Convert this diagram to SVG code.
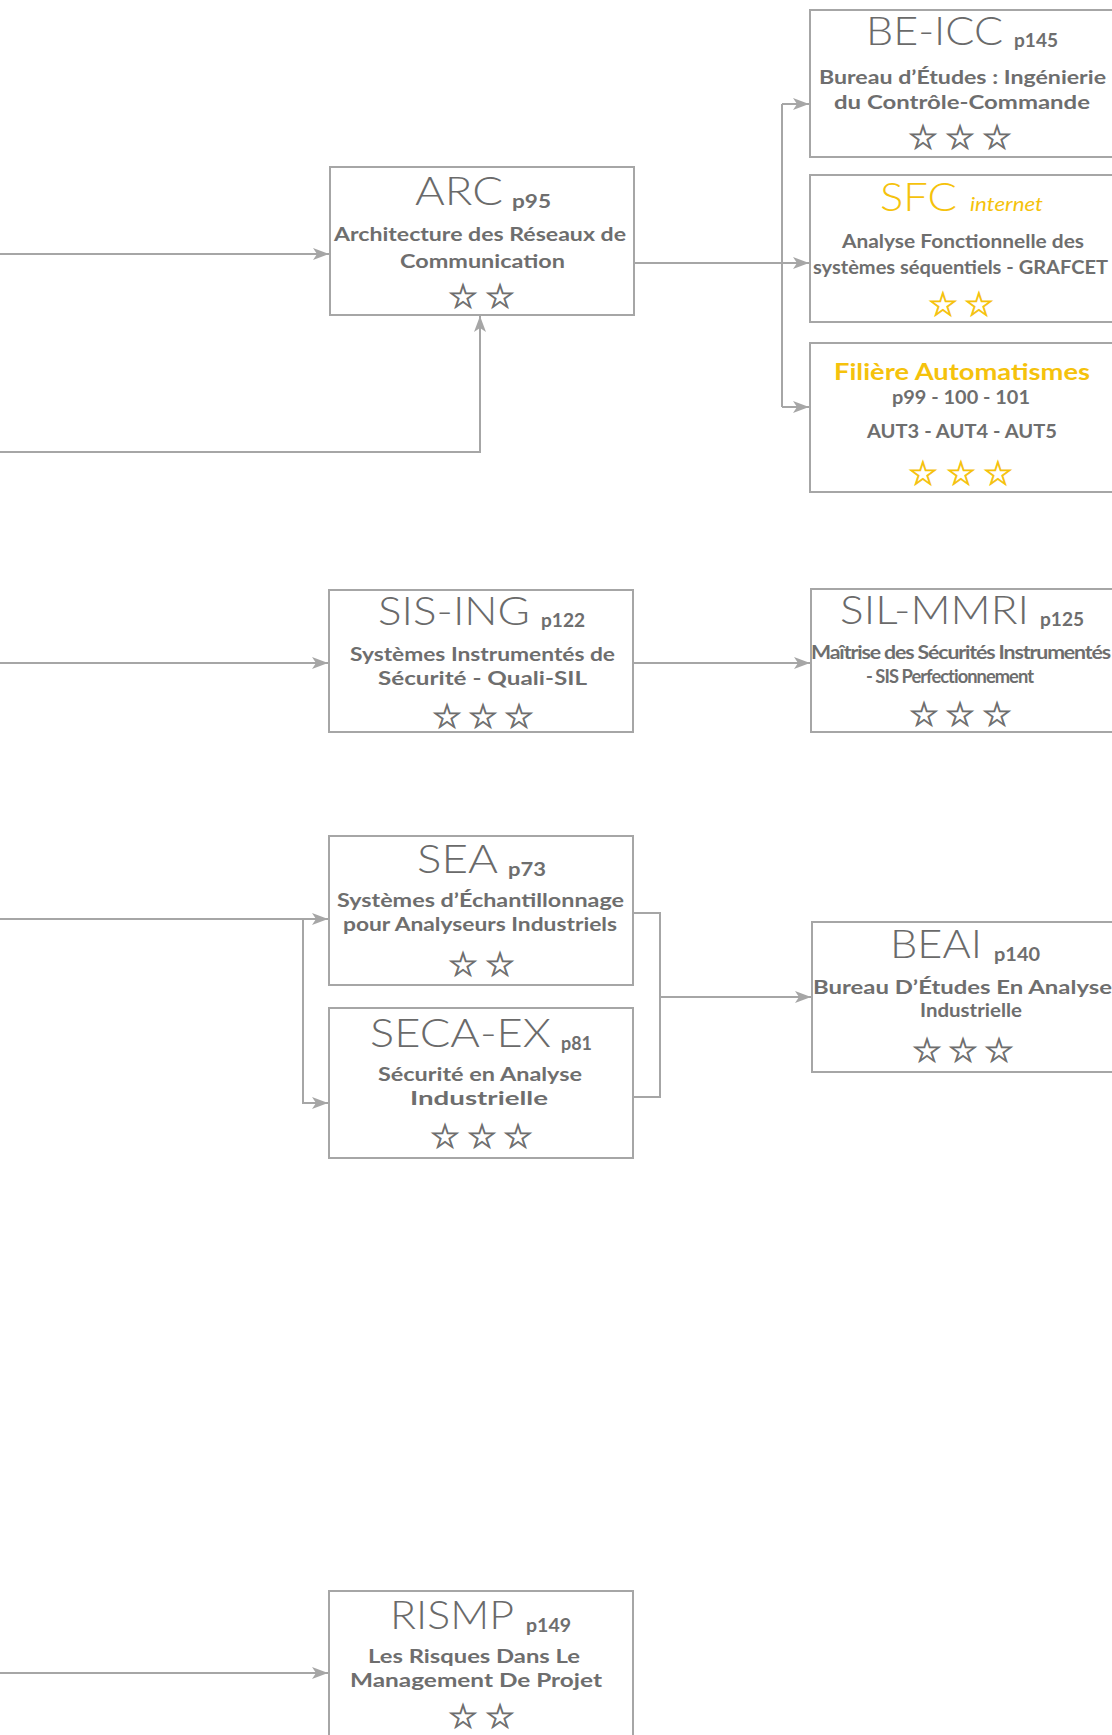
<svg xmlns="http://www.w3.org/2000/svg" width="1112" height="1735" viewBox="0 0 1112 1735">
<style>
.box{fill:#fff;stroke:#a6a6a6;stroke-width:2}
.ln{fill:none;stroke:#a6a6a6;stroke-width:2}
.t{font-family:Lato,"Liberation Sans",sans-serif;font-weight:300;font-size:39px;fill:#6a6a6a}
.p{font-family:Lato,"Liberation Sans",sans-serif;font-weight:700;font-size:19px;fill:#6e6e6e}
.s{font-family:Lato,"Liberation Sans",sans-serif;font-weight:700;font-size:19px;fill:#6e6e6e}
.y{fill:#f5c20c}
.i{font-family:Lato,"Liberation Sans",sans-serif;font-style:italic;font-weight:400;font-size:19px;fill:#f5c20c}
.st{font-family:"DejaVu Sans",sans-serif;font-size:34px;fill:#6e6e6e;stroke:#6e6e6e;stroke-width:0.8;text-anchor:middle}
.sy{fill:#f5c20c;stroke:#f5c20c}
</style>
<defs>
<marker id="ar" markerUnits="userSpaceOnUse" markerWidth="20" markerHeight="16" refX="18" refY="8" orient="auto">
<path d="M2,2 L18,8 L2,14 L6,8 z" fill="#a6a6a6"/>
</marker>
</defs>
<g id="connectors">
<path class="ln" d="M0,254 H329" marker-end="url(#ar)"/>
<path class="ln" d="M0,452 H480 V316" marker-end="url(#ar)"/>
<path class="ln" d="M634,263 H782"/>
<path class="ln" d="M782,104 V407"/>
<path class="ln" d="M782,104 H809" marker-end="url(#ar)"/>
<path class="ln" d="M782,263 H809" marker-end="url(#ar)"/>
<path class="ln" d="M782,407 H809" marker-end="url(#ar)"/>
<path class="ln" d="M0,663 H328" marker-end="url(#ar)"/>
<path class="ln" d="M633,663 H810" marker-end="url(#ar)"/>
<path class="ln" d="M0,919 H328" marker-end="url(#ar)"/>
<path class="ln" d="M303,919 V1103 H328" marker-end="url(#ar)"/>
<path class="ln" d="M633,913 H660 V1097 H633"/>
<path class="ln" d="M660,997 H811" marker-end="url(#ar)"/>
<path class="ln" d="M0,1673 H328" marker-end="url(#ar)"/>
</g>
<g id="be-icc">
<rect class="box" x="810" y="10" width="320" height="147"/>
<text class="t" x="866" y="45" textLength="137" lengthAdjust="spacingAndGlyphs">BE-ICC</text>
<text class="p" x="1014" y="47" textLength="44" lengthAdjust="spacingAndGlyphs">p145</text>
<text class="s" x="819" y="84" textLength="287" lengthAdjust="spacingAndGlyphs">Bureau d’Études : Ingénierie</text>
<text class="s" x="834" y="109" textLength="256" lengthAdjust="spacingAndGlyphs">du Contrôle-Commande</text>
<text class="st" y="149"><tspan x="923">☆</tspan><tspan x="960">☆</tspan><tspan x="997">☆</tspan></text>
</g>
<g id="sfc">
<rect class="box" x="810" y="175" width="320" height="147"/>
<text class="t y" x="880" y="211" textLength="77" lengthAdjust="spacingAndGlyphs">SFC</text>
<text class="i" x="970" y="211" textLength="73" lengthAdjust="spacingAndGlyphs">internet</text>
<text class="s" x="842" y="248" textLength="242" lengthAdjust="spacingAndGlyphs">Analyse Fonctionnelle des</text>
<text class="s" x="813" y="274" textLength="295" lengthAdjust="spacingAndGlyphs">systèmes séquentiels - GRAFCET</text>
<text class="st sy" y="316"><tspan x="943">☆</tspan><tspan x="979">☆</tspan></text>
</g>
<g id="filiere-automatismes">
<rect class="box" x="810" y="343" width="320" height="149"/>
<text class="s y" x="834" y="380" style="font-size:22px" textLength="256" lengthAdjust="spacingAndGlyphs">Filière Automatismes</text>
<text class="s" x="892" y="404" textLength="138" lengthAdjust="spacingAndGlyphs">p99 - 100 - 101</text>
<text class="s" x="867" y="438" textLength="190" lengthAdjust="spacingAndGlyphs">AUT3 - AUT4 - AUT5</text>
<text class="st sy" y="485"><tspan x="923">☆</tspan><tspan x="961">☆</tspan><tspan x="998">☆</tspan></text>
</g>
<g id="arc">
<rect class="box" x="330" y="167" width="304" height="148"/>
<text class="t" x="415" y="205" textLength="88" lengthAdjust="spacingAndGlyphs">ARC</text>
<text class="p" x="512" y="208" textLength="39" lengthAdjust="spacingAndGlyphs">p95</text>
<text class="s" x="334" y="241" textLength="292" lengthAdjust="spacingAndGlyphs">Architecture des Réseaux de</text>
<text class="s" x="400" y="268" textLength="165" lengthAdjust="spacingAndGlyphs">Communication</text>
<text class="st" y="308"><tspan x="463">☆</tspan><tspan x="500">☆</tspan></text>
</g>
<g id="sis-ing">
<rect class="box" x="329" y="590" width="304" height="142"/>
<text class="t" x="378" y="625" textLength="152" lengthAdjust="spacingAndGlyphs">SIS-ING</text>
<text class="p" x="541" y="627" textLength="44" lengthAdjust="spacingAndGlyphs">p122</text>
<text class="s" x="350" y="661" textLength="265" lengthAdjust="spacingAndGlyphs">Systèmes Instrumentés de</text>
<text class="s" x="378" y="685" textLength="209" lengthAdjust="spacingAndGlyphs">Sécurité - Quali-SIL</text>
<text class="st" y="728"><tspan x="447">☆</tspan><tspan x="483">☆</tspan><tspan x="519">☆</tspan></text>
</g>
<g id="sil-mmri">
<rect class="box" x="811" y="589" width="320" height="143"/>
<text class="t" x="840" y="624" textLength="189" lengthAdjust="spacingAndGlyphs">SIL-MMRI</text>
<text class="p" x="1040" y="626" textLength="44" lengthAdjust="spacingAndGlyphs">p125</text>
<text class="s" x="811" y="659" style="letter-spacing:-1px" textLength="299" lengthAdjust="spacingAndGlyphs">Maîtrise des Sécurités Instrumentés</text>
<text class="s" x="866" y="683" style="letter-spacing:-1px" textLength="167" lengthAdjust="spacingAndGlyphs">- SIS Perfectionnement</text>
<text class="st" y="726"><tspan x="924">☆</tspan><tspan x="960">☆</tspan><tspan x="997">☆</tspan></text>
</g>
<g id="sea">
<rect class="box" x="329" y="836" width="304" height="149"/>
<text class="t" x="417" y="873" textLength="81" lengthAdjust="spacingAndGlyphs">SEA</text>
<text class="p" x="508" y="876" textLength="38" lengthAdjust="spacingAndGlyphs">p73</text>
<text class="s" x="337" y="907" textLength="287" lengthAdjust="spacingAndGlyphs">Systèmes d’Échantillonnage</text>
<text class="s" x="343" y="931" textLength="274" lengthAdjust="spacingAndGlyphs">pour Analyseurs Industriels</text>
<text class="st" y="976"><tspan x="463">☆</tspan><tspan x="500">☆</tspan></text>
</g>
<g id="seca-ex">
<rect class="box" x="329" y="1008" width="304" height="150"/>
<text class="t" x="370" y="1047" textLength="181" lengthAdjust="spacingAndGlyphs">SECA-EX</text>
<text class="p" x="561" y="1050" textLength="31" lengthAdjust="spacingAndGlyphs">p81</text>
<text class="s" x="378" y="1081" textLength="204" lengthAdjust="spacingAndGlyphs">Sécurité en Analyse</text>
<text class="s" x="410" y="1105" textLength="138" lengthAdjust="spacingAndGlyphs">Industrielle</text>
<text class="st" y="1148"><tspan x="445">☆</tspan><tspan x="482">☆</tspan><tspan x="518">☆</tspan></text>
</g>
<g id="beai">
<rect class="box" x="812" y="922" width="320" height="150"/>
<text class="t" x="890" y="958" textLength="92" lengthAdjust="spacingAndGlyphs">BEAI</text>
<text class="p" x="994" y="961" textLength="46" lengthAdjust="spacingAndGlyphs">p140</text>
<text class="s" x="813" y="994" textLength="299" lengthAdjust="spacingAndGlyphs">Bureau D’Études En Analyse</text>
<text class="s" x="920" y="1017" textLength="102" lengthAdjust="spacingAndGlyphs">Industrielle</text>
<text class="st" y="1062"><tspan x="927">☆</tspan><tspan x="963">☆</tspan><tspan x="999">☆</tspan></text>
</g>
<g id="rismp">
<rect class="box" x="329" y="1591" width="304" height="160"/>
<text class="t" x="390" y="1629" textLength="124" lengthAdjust="spacingAndGlyphs">RISMP</text>
<text class="p" x="526" y="1632" textLength="45" lengthAdjust="spacingAndGlyphs">p149</text>
<text class="s" x="368" y="1663" textLength="212" lengthAdjust="spacingAndGlyphs">Les Risques Dans Le</text>
<text class="s" x="350" y="1687" textLength="252" lengthAdjust="spacingAndGlyphs">Management De Projet</text>
<text class="st" y="1728"><tspan x="463">☆</tspan><tspan x="500">☆</tspan></text>
</g>
</svg>
